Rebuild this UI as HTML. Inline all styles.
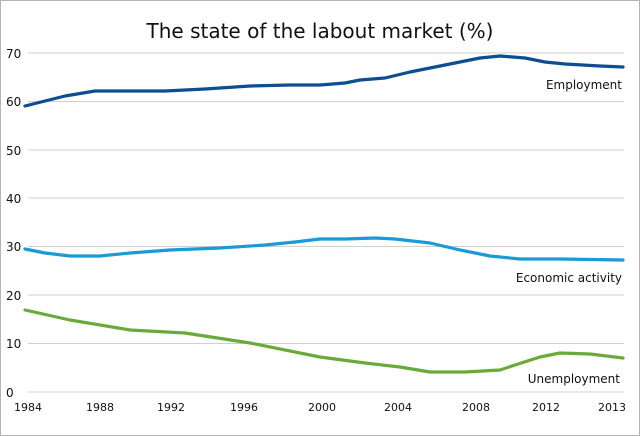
<!DOCTYPE html>
<html><head><style>
body{margin:0;background:#fff}
svg{display:block;font-family:"DejaVu Sans","Liberation Sans",sans-serif}
</style></head><body>
<svg width="640" height="436" viewBox="0 0 640 436">
<rect x="0.5" y="0.5" width="639" height="435" fill="#fff" stroke="#b5b5b5"/>
<text x="320" y="38" text-anchor="middle" font-size="20" fill="#111">The state of the labout market (%)</text>
<g stroke="#cfcfcf" stroke-width="1">
<line x1="28" x2="624" y1="53" y2="53"/><line x1="28" x2="624" y1="101.5" y2="101.5"/>
<line x1="28" x2="624" y1="150" y2="150"/><line x1="28" x2="624" y1="198" y2="198"/>
<line x1="28" x2="624" y1="246.5" y2="246.5"/><line x1="28" x2="624" y1="295" y2="295"/>
<line x1="28" x2="624" y1="343.5" y2="343.5"/><line x1="28" x2="624" y1="392" y2="392"/>
</g>
<g font-size="12" fill="#111">
<text x="6" y="58">70</text><text x="6" y="106">60</text><text x="6" y="155">50</text>
<text x="6" y="203">40</text><text x="6" y="251">30</text><text x="6" y="300">20</text>
<text x="6" y="348">10</text><text x="6" y="397">0</text>
</g>
<g font-size="11" fill="#111" text-anchor="middle">
<text x="28" y="411">1984</text><text x="100" y="411">1988</text><text x="171" y="411">1992</text>
<text x="244" y="411">1996</text><text x="322" y="411">2000</text><text x="398" y="411">2004</text>
<text x="476" y="411">2008</text><text x="546" y="411">2012</text><text x="612" y="411">2013</text>
</g>
<g fill="none" stroke-width="3.2" stroke-linejoin="round" stroke-linecap="round">
<polyline stroke="#0d4d92" points="25,106 45,101 65,96 95,91 125,91 165,91 205,89 250,86 290,85 320,85 345,83 360,80 385,78 410,72 430,68 455,63 480,58 500,56 525,58 545,62 565,64 600,66 623,67"/>
<polyline stroke="#1a9ad6" points="25,249 45,253 70,256 100,256 130,253 170,250 220,248 265,245 295,242 320,239 345,239 375,238 395,239 430,243 460,250 490,256 520,259 560,259 623,260"/>
<polyline stroke="#6aaa3a" points="25,310 70,320 130,330 185,333 250,343 320,357 365,363 400,367 430,372 465,372 500,370 515,365 540,357 560,353 590,354 623,358"/>
</g>
<g font-size="12" fill="#111" text-anchor="end">
<text x="622" y="89">Employment</text>
<text x="622" y="282">Economic activity</text>
<text x="620" y="383">Unemployment</text>
</g>
</svg>
</body></html>
